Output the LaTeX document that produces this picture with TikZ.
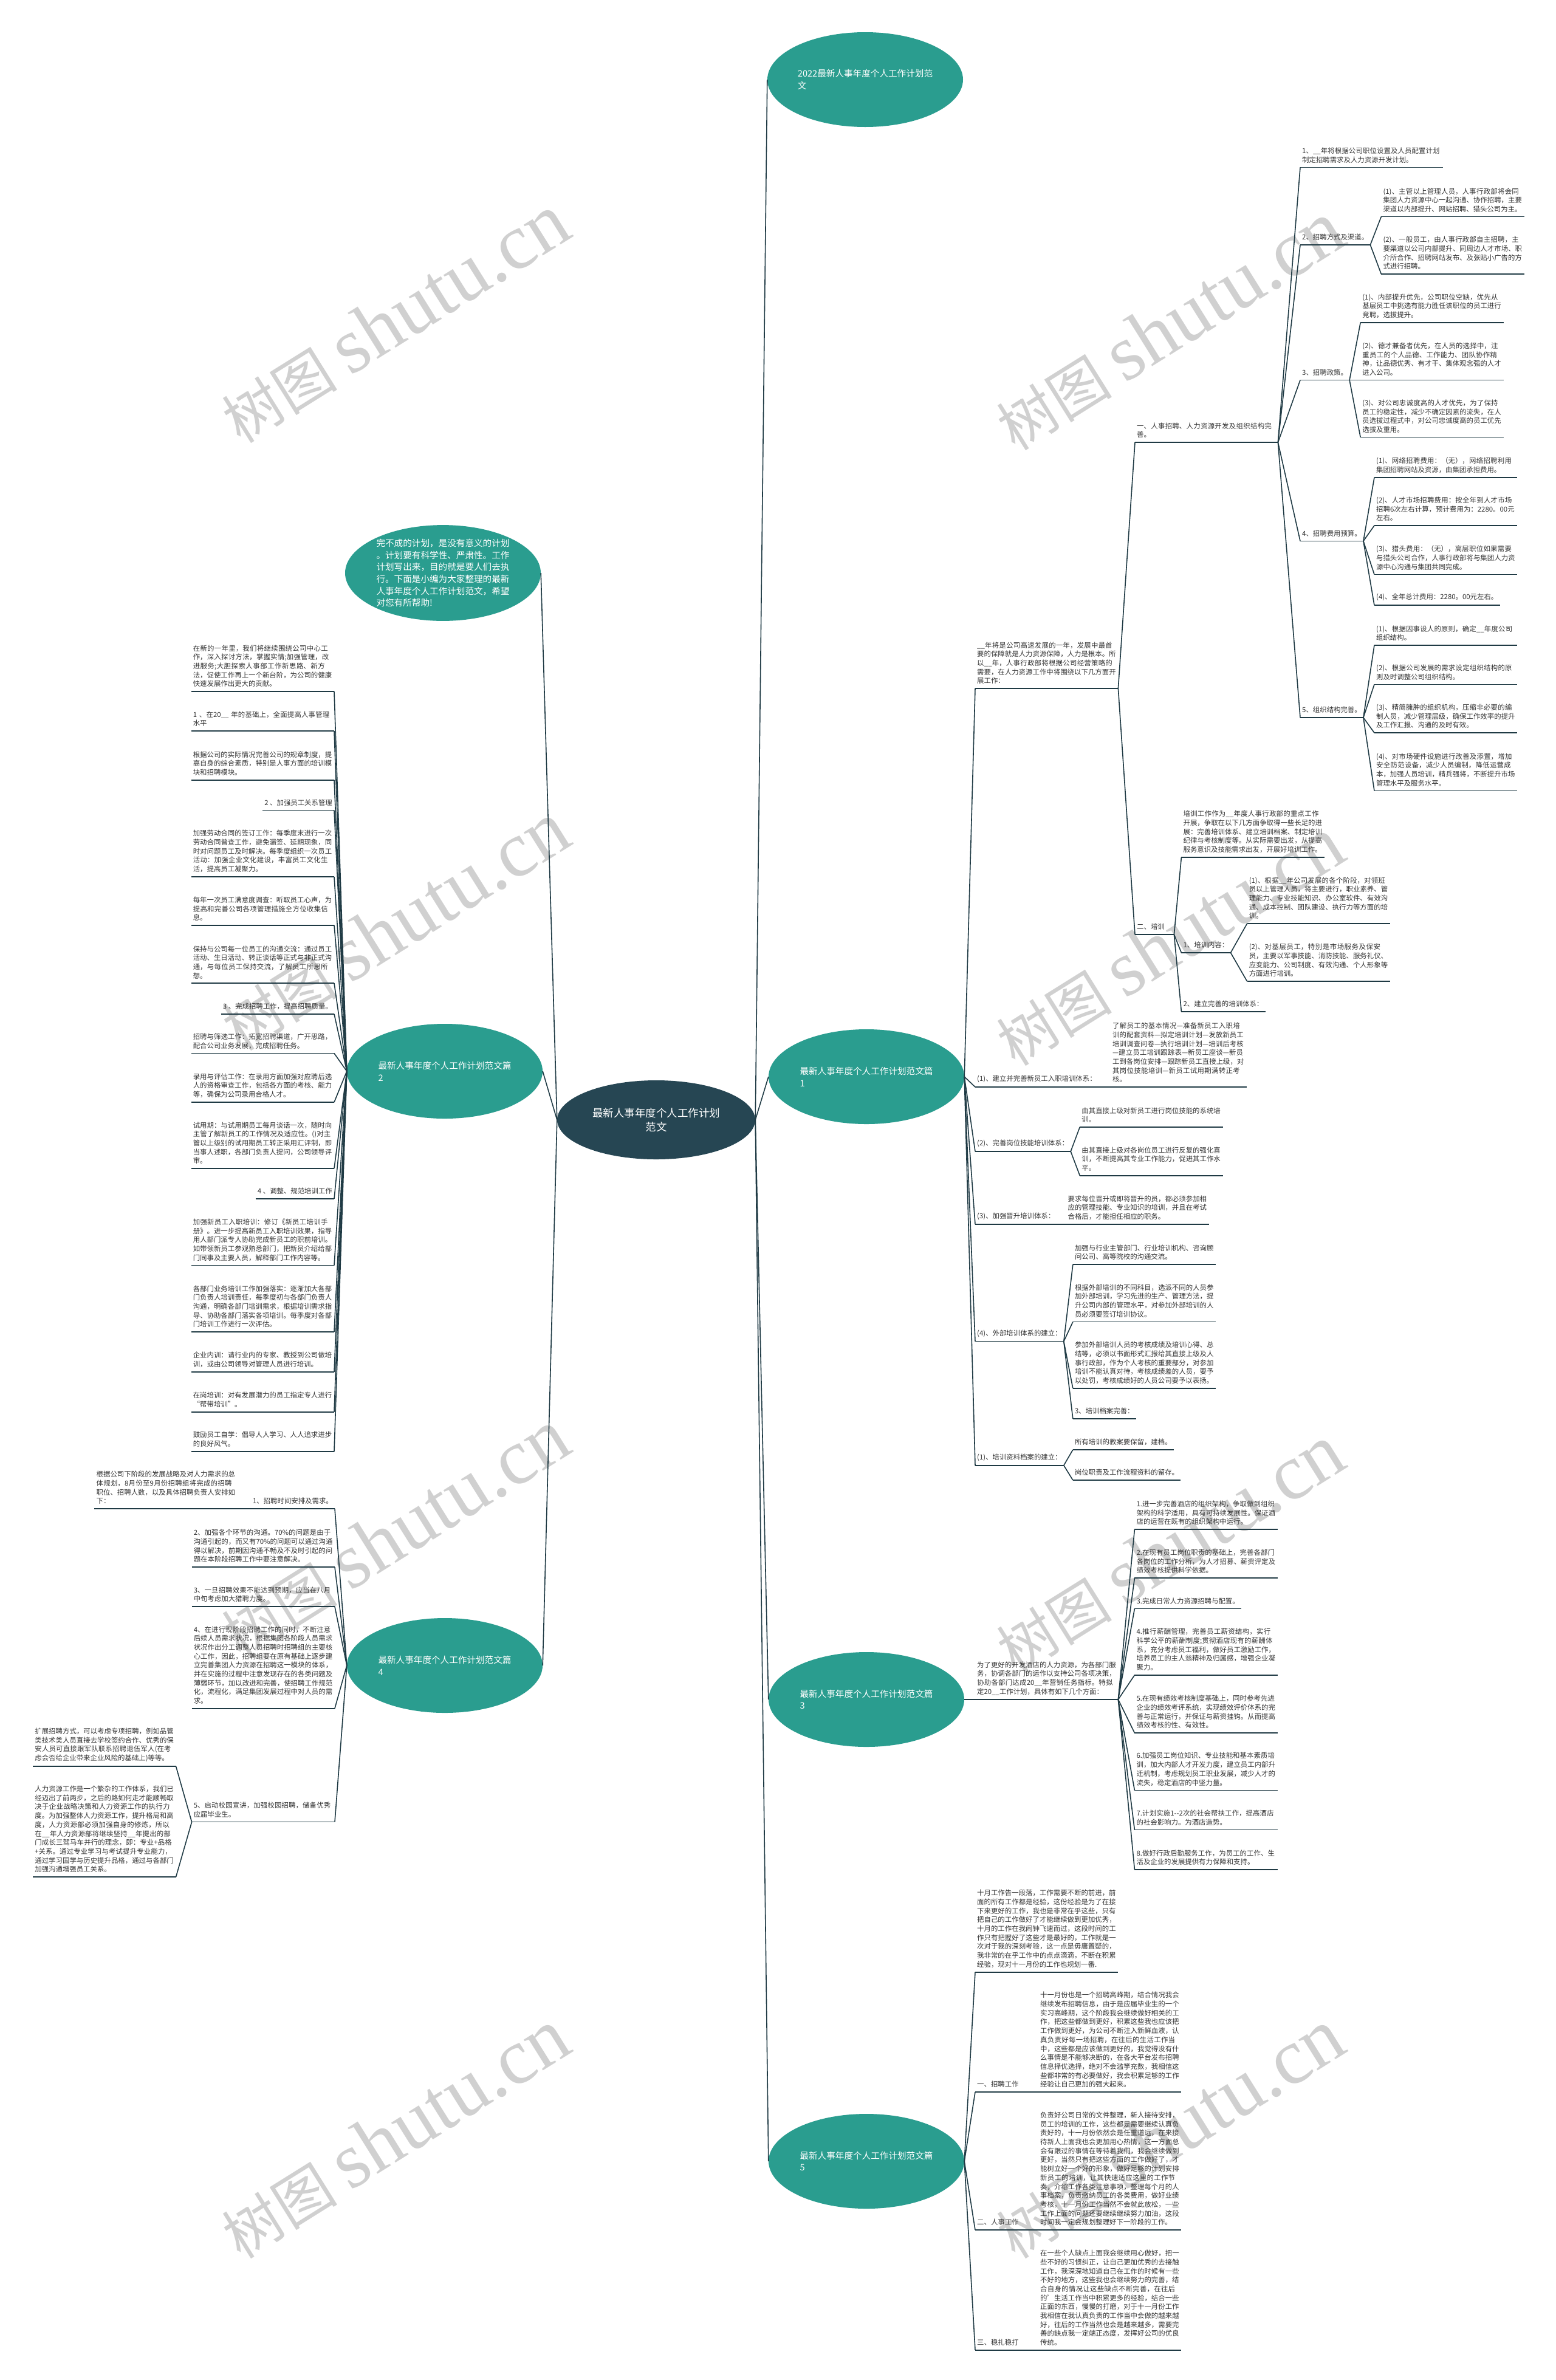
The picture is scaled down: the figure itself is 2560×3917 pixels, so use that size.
\documentclass[tikz,border=0pt]{standalone}
\usepackage{fontspec}
\setmainfont{Noto Sans CJK SC}
\newfontfamily\markserif{Liberation Serif}
\usepackage{xcolor}
\usepackage{tikz}
\usetikzlibrary{shapes.geometric,positioning,calc}
\XeTeXlinebreaklocale "zh"
\XeTeXlinebreakskip=0pt plus 1pt
\definecolor{RootDark}{HTML}{264653}
\definecolor{TopicTeal}{HTML}{2A9D8F}
\definecolor{LinkDark}{HTML}{1F3A44}
\definecolor{TextGray}{HTML}{333333}
\definecolor{MarkGray}{HTML}{D0D0D0}
\newcommand\leafsize{\fontsize{11.4pt}{14.7pt}\selectfont}

\begin{document}
\begin{tikzpicture}[
	x=1pt, y=-1pt,
	rootnode/.style={ellipse, fill=RootDark, text=white, minimum width=326pt, minimum height=130pt, inner sep=0pt, align=center, font=\fontsize{17.5pt}{23pt}\selectfont},
	topic/.style={ellipse, fill=TopicTeal, text=white, minimum width=322pt, minimum height=156pt, inner sep=0pt, align=left, font=\fontsize{14.6pt}{19.6pt}\selectfont},
	leaf/.style={text width=229pt, align=left, inner xsep=3pt, inner ysep=7pt, font=\leafsize, text=TextGray},
	lab/.style={inner xsep=3pt, inner ysep=7pt, font=\leafsize, text=TextGray},
	leafR/.style={leaf, anchor=south west}, leafL/.style={leaf, anchor=south east},
	labR/.style={lab, anchor=south west}, labL/.style={lab, anchor=south east},
	link/.style={draw=LinkDark, line width=1.6pt},
	wmark/.style={text=MarkGray, rotate=32, inner sep=0pt}
]
\useasboundingbox (0,0) rectangle (2560,3917);
\fill[white] (0,0) rectangle (2560,3917);

% watermarks
\foreach \wx/\wy [count=\w] in {650/525, 1925/537, 650/1525, 1925/1550, 650/2525, 1925/2550, 650/3512, 1925/3512}
	\node[wmark] (wm\w) at (\wx,\wy) {{\fontsize{95pt}{95pt}\selectfont 树图}\hspace{22pt}{\markserif\fontsize{130pt}{130pt}\selectfont shutu.cn}};

% centre and main topics
\node[rootnode] (root) at (1080,1843) {最新人事年度个人工作计划\\范文};
\node[topic] (top) at (1424,131) {2022最新人事年度个人工作计划范\\文};
\node[topic] (intro) at (729,943) {完不成的计划，是没有意义的计划\\。计划要有科学性、严肃性。工作\\计划写出来，目的就是要人们去执\\行。下面是小编为大家整理的最新\\人事年度个人工作计划范文，希望\\对您有所帮助!};
\node[topic] (br1) at (1426,1772) {最新人事年度个人工作计划范文篇\\1};
\node[topic] (br2) at (732,1763) {最新人事年度个人工作计划范文篇\\2};
\node[topic] (br3) at (1426,2797) {最新人事年度个人工作计划范文篇\\3};
\node[topic] (br4) at (732,2741) {最新人事年度个人工作计划范文篇\\4};
\node[topic] (br5) at (1426,3557) {最新人事年度个人工作计划范文篇\\5};

% branch 1
\node[leafR] (p1) at (1605,1133) {\_\_年将是公司高速发展的一年，发展中最首要的保障就是人力资源保障，人力是根本。所以\_\_年，人事行政部将根据公司经营策略的需要，在人力资源工作中将围绕以下几方面开展工作：};
\node[leafR] (n1) at (1868,728) {一、人事招聘、人力资源开发及组织结构完善。};
\node[leafR] (l1) at (2140,275.5) {1、\_\_年将根据公司职位设置及人员配置计划制定招聘需求及人力资源开发计划。};
\node[labR] (l2) at (2140,403) {2、招聘方式及渠道。};
\node[labR] (l3) at (2140,625.5) {3、招聘政策。};
\node[labR] (l4) at (2140,890.5) {4、招聘费用预算。};
\node[labR] (l5) at (2140,1181) {5、组织结构完善。};
\node[leafR, xshift=18pt] (l2a) at (l2.south east |- 0,356.6) {(1)、主管以上管理人员，人事行政部将会同集团人力资源中心一起沟通、协作招聘，主要渠道以内部提升、网站招聘、猎头公司为主。};
\node[leafR, xshift=18pt] (l2b) at (l2.south east |- 0,451) {(2)、一般员工，由人事行政部自主招聘，主要渠道以公司内部提升、同周边人才市场、职介所合作、招聘网站发布、及张贴小广告的方式进行招聘。};
\node[leafR, xshift=18pt] (l3a) at (l3.south east |- 0,531) {(1)、内部提升优先，公司职位空缺，优先从基层员工中挑选有能力胜任该职位的员工进行竞聘，选拔提升。};
\node[leafR, xshift=18pt] (l3b) at (l3.south east |- 0,625.5) {(2)、德才兼备者优先，在人员的选择中，注重员工的个人品德、工作能力、团队协作精神，让品德优秀、有才干、集体观念强的人才进入公司。};
\node[leafR, xshift=18pt] (l3c) at (l3.south east |- 0,719.6) {(3)、对公司忠诚度高的人才优先，为了保持员工的稳定性，减少不确定因素的流失，在人员选拔过程式中，对公司忠诚度高的员工优先选拔及重用。};
\node[leafR, xshift=18pt] (l4a) at (l4.south east |- 0,786) {(1)、网络招聘费用：（无），网络招聘利用集团招聘网站及资源，由集团承担费用。};
\node[leafR, xshift=18pt] (l4b) at (l4.south east |- 0,865) {(2)、人才市场招聘费用：按全年到人才市场招聘6次左右计算，预计费用为：2280。00元左右。};
\node[leafR, xshift=18pt] (l4c) at (l4.south east |- 0,945.4) {(3)、猎头费用：（无），高层职位如果需要与猎头公司合作，人事行政部将与集团人力资源中心沟通与集团共同完成。};
\node[labR, xshift=18pt] (l4d) at (l4.south east |- 0,996) {(4)、全年总计费用：2280。00元左右。};
\node[leafR, xshift=18pt] (l5a) at (l5.south east |- 0,1062) {(1)、根据因事设人的原则，确定\_\_年度公司组织结构。};
\node[leafR, xshift=18pt] (l5b) at (l5.south east |- 0,1126.4) {(2)、根据公司发展的需求设定组织结构的原则及时调整公司组织结构。};
\node[leafR, xshift=18pt] (l5c) at (l5.south east |- 0,1206) {(3)、精简臃肿的组织机构，压缩非必要的编制人员，减少管理层级，确保工作效率的提升及工作汇报、沟通的及时有效。};
\node[leafR, xshift=18pt] (l5d) at (l5.south east |- 0,1301.4) {(4)、对市场硬件设施进行改善及添置，增加安全防范设备，减少人员编制，降低运营成本，加强人员培训，精兵强将，不断提升市场管理水平及服务水平。};

\node[labR, text width=58pt] (n2) at (1868,1538) {二、培训};
\node[leafR, xshift=12pt] (n2a) at (n2.south east |- 0,1411) {培训工作作为\_\_年度人事行政部的重点工作开展，争取在以下几方面争取得一些长足的进展：完善培训体系、建立培训档案、制定培训纪律与考核制度等。从实际需要出发，从提高服务意识及技能需求出发，开展好培训工作。};
\node[labR, xshift=12pt] (n2b) at (n2.south east |- 0,1568) {1、培训内容：};
\node[labR, xshift=12pt] (n2c) at (n2.south east |- 0,1665) {2、建立完善的培训体系：};
\node[leafR, xshift=27pt] (n2b1) at (n2b.south east |- 0,1520) {(1)、根据\_\_年公司发展的各个阶段，对领班员以上管理人员，将主要进行，职业素养、管理能力、专业技能知识、办公室软件、有效沟通、成本控制、团队建设、执行力等方面的培训。};
\node[leafR, xshift=27pt] (n2b2) at (n2b.south east |- 0,1615) {(2)、对基层员工，特别是市场服务及保安员，主要以军事技能、消防技能、服务礼仪、应变能力、公司制度、有效沟通、个人形象等方面进行培训。};

\node[labR] (m1) at (1605,1789) {(1)、建立并完善新员工入职培训体系：};
\node[leafR, text width=218pt, xshift=20pt] (m1a) at (m1.south east |- 0,1789) {了解员工的基本情况—准备新员工入职培训的配套资料—拟定培训计划—发放新员工培训调查问卷—执行培训计划—培训后考核—建立员工培训跟踪表—新员工座谈—新员工到各岗位安排—跟踪新员工直接上级，对其岗位技能培训—新员工试用期满转正考核。};
\node[labR] (m2) at (1605,1895) {(2)、完善岗位技能培训体系：};
\node[leafR, xshift=15pt] (m2a) at (m2.south east |- 0,1855) {由其直接上级对新员工进行岗位技能的系统培训。};
\node[leafR, xshift=15pt] (m2b) at (m2.south east |- 0,1934.7) {由其直接上级对各岗位员工进行反复的强化喜训，不断提高其专业工作能力，促进其工作水平。};
\node[labR] (m3) at (1605,2015) {(3)、加强晋升培训体系：};
\node[leafR, xshift=15pt] (m3a) at (m3.south east |- 0,2015) {要求每位晋升或即将晋升的员，都必须参加相应的管理技能、专业知识的培训，并且在考试合格后，才能担任相应的职务。};
\node[labR] (m4) at (1605,2207.6) {(4)、外部培训体系的建立：};
\node[leafR, xshift=15pt] (m4a) at (m4.south east |- 0,2081) {加强与行业主管部门、行业培训机构、咨询顾问公司、高等院校的沟通交流。};
\node[leafR, xshift=15pt] (m4b) at (m4.south east |- 0,2175.5) {根据外部培训的不同科目，选派不同的人员参加外部培训，学习先进的生产、管理方法，提升公司内部的管理水平，对参加外部培训的人员必须要签订培训协议。};
\node[leafR, xshift=15pt] (m4c) at (m4.south east |- 0,2285) {参加外部培训人员的考核成绩及培训心得、总结等，必须以书面形式汇报给其直接上级及人事行政部，作为个人考核的重要部分，对参加培训不能认真对待，考核成绩差的人员，要予以处罚，考核成绩好的人员公司要予以表扬。};
\node[labR, xshift=15pt] (m4d) at (m4.south east |- 0,2335) {3、培训档案完善：};
\node[labR] (m5) at (1605,2411.7) {(1)、培训资料档案的建立：};
\node[labR, xshift=15pt] (m5a) at (m5.south east |- 0,2386) {所有培训的教案要保留，建档。};
\node[labR, xshift=15pt] (m5b) at (m5.south east |- 0,2436) {岗位职责及工作流程资料的留存。};

% branch 3
\node[leafR] (p3) at (1605,2797) {为了更好的开发酒店的人力资源，为各部门服务，协调各部门的运作以支持公司各项决策，协助各部门达成20\_\_年营销任务指标。特拟定20\_\_工作计划，具体有如下几个方面：};
\node[leafR, xshift=27pt] (q1) at (p3.south east |- 0,2517) {1.进一步完善酒店的组织架构，争取做到组织架构的科学适用，具有可持续发展性。保证酒店的运营在既有的组织架构中运行。};
\node[leafR, xshift=27pt] (q2) at (p3.south east |- 0,2597) {2.在现有员工岗位职责的基础上，完善各部门各岗位的工作分析，为人才招募、薪资评定及绩效考核提供科学依据。};
\node[labR, xshift=27pt] (q3) at (p3.south east |- 0,2647.5) {3.完成日常人力资源招聘与配置。};
\node[leafR, xshift=27pt] (q4) at (p3.south east |- 0,2756.8) {4.推行薪酬管理，完善员工薪资结构，实行科学公平的薪酬制度;贯彻酒店现有的薪酬体系，充分考虑员工福利，做好员工激励工作，培养员工的主人翁精神及归属感，增强企业凝聚力。};
\node[leafR, xshift=27pt] (q5) at (p3.south east |- 0,2852) {5.在现有绩效考核制度基础上，同时参考先进企业的绩效考评系统，实现绩效评价体系的完善与正常运行，并保证与薪资挂钩。从而提高绩效考核的性、有效性。};
\node[leafR, xshift=27pt] (q6) at (p3.south east |- 0,2946.4) {6.加强员工岗位知识、专业技能和基本素质培训，加大内部人才开发力度，建立员工内部升迁机制，考虑规划员工职业发展，减少人才的流失，稳定酒店的中坚力量。};
\node[leafR, xshift=27pt] (q7) at (p3.south east |- 0,3011.6) {7.计划实施1-{}-2次的社会帮扶工作，提高酒店的社会影响力。为酒店造势。};
\node[leafR, xshift=27pt] (q8) at (p3.south east |- 0,3077) {8.做好行政后勤服务工作，为员工的工作、生活及企业的发展提供有力保障和支持。};

% branch 5
\node[leafR] (p5) at (1605,3245.7) {十月工作告一段落，工作需要不断的前进，前面的所有工作都是经验，这份经验是为了在接下来更好的工作，我也是非常在乎这些，只有把自己的工作做好了才能继续做到更加优秀，十月的工作在我闹钟飞速而过，这段时间的工作只有把握好了这些才是最好的，工作就是一次对于我的深刻考验，这一点是毋庸置疑的，我非常的在乎工作中的点点滴滴，不断在积累经验，现对十一月份的工作也规划一番.};
\node[labR] (s1) at (1605,3443) {一、招聘工作};
\node[leafR] (s1a) at (1709,3443) {十一月份也是一个招聘高峰期，结合情况我会继续发布招聘信息，由于是应届毕业生的一个实习高峰期，这个阶段我会继续做好相关的工作，把这些都做到更好，积累这些我也应该把工作做到更好，为公司不断注入新鲜血液，认真负责好每一场招聘，在往后的生活工作当中，这些都是应该做到更好的，我觉得没有什么事情是不能够决断的，在各大平台发布招聘信息择优选择，绝对不会滥竽充数，我相信这些都非常的有必要做好，我会积累足够的工作经验让自己更加的强大起来。};
\node[labR] (s2) at (1605,3670) {二、人事工作};
\node[leafR] (s2a) at (1709,3670) {负责好公司日常的文件整理，新人接待安排，员工的培训的工作，这些都是需要继续认真负责好的，十一月份依然会是任重道远，在来接待新人上面我也会更加用心热情，这一方面总会有跟过的事情在等待着我们，我会继续做到更好，当然只有把这些方面的工作做好了，才能树立好一个好的形象，做好足够的计划安排新员工的培训，让其快速适应这里的工作节奏，介绍工作各类注意事项，整理每个月的人事档案，负责缴纳员工的各类费用，做好业绩考核，十一月份工作当然不会就此放松，一些工作上面的问题还要继续继续努力加油，这段时间我一定会规划整理好下一阶段的工作。};
\node[labR] (s3) at (1605,3867.7) {三、稳扎稳打};
\node[leafR] (s3a) at (1709,3867.7) {在一些个人缺点上面我会继续用心做好，把一些不好的习惯纠正，让自己更加优秀的去接触工作，我深深地知道自己在工作的时候有一些不好的地方，这些我也会继续努力的完善，结合自身的情况让这些缺点不断完善，在往后的'生活工作当中积累更多的经验，结合一些正面的东西，慢慢的打磨，对于十一月份工作我相信在我认真负责的工作当中会做的越来越好，往后的工作当然也会是越来越多，需要完善的缺点我一定端正态度，发挥好公司的优良传统。};

% branch 2
\node[leafL] (k1) at (550,1138) {在新的一年里，我们将继续围绕公司中心工作，深入探讨方法，掌握实情;加强管理，改进服务;大胆探索人事部工作新思路、新方法，促使工作再上一个新台阶，为公司的健康快速发展作出更大的贡献。};
\node[leafL] (k2) at (550,1203) {1 、在20\_\_ 年的基础上，全面提高人事管理水平};
\node[leafL] (k3) at (550,1283.7) {根据公司的实际情况完善公司的规章制度，提高自身的综合素质，特别是人事方面的培训模块和招聘模块。};
\node[labL] (k4) at (550,1333.6) {2 、加强员工关系管理};
\node[leafL] (k5) at (550,1443) {加强劳动合同的签订工作：每季度末进行一次劳动合同普查工作，避免漏签、延期现象，同时对问题员工及时解决。每季度组织一次员工活动：加强企业文化建设，丰富员工文化生活，提高员工凝聚力。};
\node[leafL] (k6) at (550,1522.7) {每年一次员工满意度调查：听取员工心声，为提高和完善公司各项管理措施全方位收集信息。};
\node[leafL] (k7) at (550,1618) {保持与公司每一位员工的沟通交流：通过员工活动、生日活动、转正谈话等正式与非正式沟通，与每位员工保持交流，了解员工所思所想。};
\node[labL] (k8) at (550,1668.8) {3 、完成招聘工作，提高招聘质量。};
\node[leafL] (k9) at (550,1733.5) {招聘与筛选工作：拓宽招聘渠道，广开思路，配合公司业务发展，完成招聘任务。};
\node[leafL] (k10) at (550,1814) {录用与评估工作：在录用方面加强对应聘后选人的资格审查工作，包括各方面的考核、能力等，确保为公司录用合格人才。};
\node[leafL] (k11) at (550,1923) {试用期：与试用期员工每月谈话一次，随时向主管了解新员工的工作情况及适应性。()对主管以上级别的试用期员工转正采用汇评制，即当事人述职，各部门负责人提问，公司领导评审。};
\node[labL] (k12) at (550,1973) {4 、调整、规范培训工作};
\node[leafL] (k13) at (550,2082.6) {加强新员工入职培训：修订《新员工培训手册》。进一步提高新员工入职培训效果，指导用人部门派专人协助完成新员工的职前培训。如带领新员工参观熟悉部门，把新员介绍给部门同事及主要人员，解释部门工作内容等。};
\node[leafL] (k14) at (550,2192) {各部门业务培训工作加强落实：逐渐加大各部门负责人培训责任，每季度初与各部门负责人沟通，明确各部门培训需求，根据培训需求指导、协助各部门落实各项培训。每季度对各部门培训工作进行一次评估。};
\node[leafL] (k15) at (550,2258) {企业内训：请行业内的专家、教授到公司做培训，或由公司领导对管理人员进行培训。};
\node[leafL] (k16) at (550,2323.7) {在岗培训：对有发展潜力的员工指定专人进行“帮带培训”。};
\node[leafL] (k17) at (550,2388.8) {鼓励员工自学：倡导人人学习、人人追求进步的良好风气。};

% branch 4
\node[labL] (j1) at (551,2483) {1、招聘时间安排及需求。};
\node[leafL] (j1a) at ([xshift=-22pt]j1.south west) {根据公司下阶段的发展战略及对人力需求的总体规划，8月份至9月份招聘组将完成的招聘职位、招聘人数，以及具体招聘负责人安排如下：};
\node[leafL] (j2) at (551,2579) {2、加强各个环节的沟通。70\%的问题是由于沟通引起的，而又有70\%的问题可以通过沟通得以解决，前期因沟通不畅及不及时引起的问题在本阶段招聘工作中要注意解决。};
\node[leafL] (j3) at (551,2644) {3、一旦招聘效果不能达到预期，应当在八月中旬考虑加大猎聘力度。};
\node[leafL] (j4) at (551,2811.7) {4、在进行现阶段招聘工作的同时，不断注意后续人员需求状况，根据集团各阶段人员需求状况作出分工调整人员招聘时招聘组的主要核心工作，因此，招聘组要在原有基础上逐步建立完善集团人力资源在招聘这一模块的体系，并在实施的过程中注意发现存在的各类问题及薄弱环节，加以改进和完善，使招聘工作规范化，流程化，满足集团发展过程中对人员的需求。};
\node[leafL] (j5) at (551,2998.6) {5、启动校园宣讲，加强校园招聘，储备优秀应届毕业生。};
\node[leafL] (j5a) at ([xshift=-26pt]j5.south west |- 0,2907) {扩展招聘方式，可以考虑专项招聘，例如品管类技术类人员直接去学校签约合作、优秀的保安人员可直接跟军队联系招聘退伍军人(在考虑会否给企业带来企业风险的基础上)等等。};
\node[leafL] (j5b) at ([xshift=-26pt]j5.south west |- 0,3089) {人力资源工作是一个繁杂的工作体系，我们已经迈出了前两步，之后的路如何走才能顺畅取决于企业战略决策和人力资源工作的执行力度。为加强整体人力资源工作，提升格局和高度，人力资源部必须加强自身的修炼，所以在\_\_年人力资源部将继续坚持\_\_年提出的部门成长三驾马车并行的理念，即：专业+品格+关系。通过专业学习与考试提升专业能力，通过学习国学与历史提升品格，通过与各部门加强沟通增强员工关系。};

% connectors
\foreach \t in {top,br1,br3,br5} \draw[link] (root.east) -- (\t.west);
\foreach \t in {intro,br2,br4} \draw[link] (root.west) -- (\t.east);
\foreach \k in {p1,m1,m2,m3,m4,m5} \draw[link] (br1.east) -- (\k.south west);
\foreach \k in {n1,n2} \draw[link] (p1.south east) -- (\k.south west);
\foreach \k in {l1,l2,l3,l4,l5} \draw[link] (n1.south east) -- (\k.south west);
\foreach \k in {l2a,l2b} \draw[link] (l2.south east) -- (\k.south west);
\foreach \k in {l3a,l3b,l3c} \draw[link] (l3.south east) -- (\k.south west);
\foreach \k in {l4a,l4b,l4c,l4d} \draw[link] (l4.south east) -- (\k.south west);
\foreach \k in {l5a,l5b,l5c,l5d} \draw[link] (l5.south east) -- (\k.south west);
\foreach \k in {n2a,n2b,n2c} \draw[link] (n2.south east) -- (\k.south west);
\foreach \k in {n2b1,n2b2} \draw[link] (n2b.south east) -- (\k.south west);
\draw[link] (m1.south east) -- (m1a.south west);
\foreach \k in {m2a,m2b} \draw[link] (m2.south east) -- (\k.south west);
\draw[link] (m3.south east) -- (m3a.south west);
\foreach \k in {m4a,m4b,m4c,m4d} \draw[link] (m4.south east) -- (\k.south west);
\foreach \k in {m5a,m5b} \draw[link] (m5.south east) -- (\k.south west);
\draw[link] (br3.east) -- (p3.south west);
\foreach \i in {1,...,8} \draw[link] (p3.south east) -- (q\i.south west);
\foreach \k in {p5,s1,s2,s3} \draw[link] (br5.east) -- (\k.south west);
\foreach \i in {1,2,3} \draw[link] (s\i.south east) -- (s\i a.south west);
\foreach \i in {1,...,17} \draw[link] (br2.west) -- (k\i.south east);
\foreach \i in {1,...,5} \draw[link] (br4.west) -- (j\i.south east);
\draw[link] (j1.south west) -- (j1a.south east);
\foreach \k in {j5a,j5b} \draw[link] (j5.south west) -- (\k.south east);

% underlines
\foreach \k in {p1,n1,l1,l2,l3,l4,l5,l2a,l2b,l3a,l3b,l3c,l4a,l4b,l4c,l4d,l5a,l5b,l5c,l5d,
	n2,n2a,n2b,n2c,n2b1,n2b2,m1,m1a,m2,m2a,m2b,m3,m3a,m4,m4a,m4b,m4c,m4d,m5,m5a,m5b,
	p3,q1,q2,q3,q4,q5,q6,q7,q8,p5,s1,s1a,s2,s2a,s3,s3a,
	k1,k2,k3,k4,k5,k6,k7,k8,k9,k10,k11,k12,k13,k14,k15,k16,k17,
	j1,j1a,j2,j3,j4,j5,j5a,j5b}
	\draw[link] (\k.south west) -- (\k.south east);
\end{tikzpicture}
\end{document}
